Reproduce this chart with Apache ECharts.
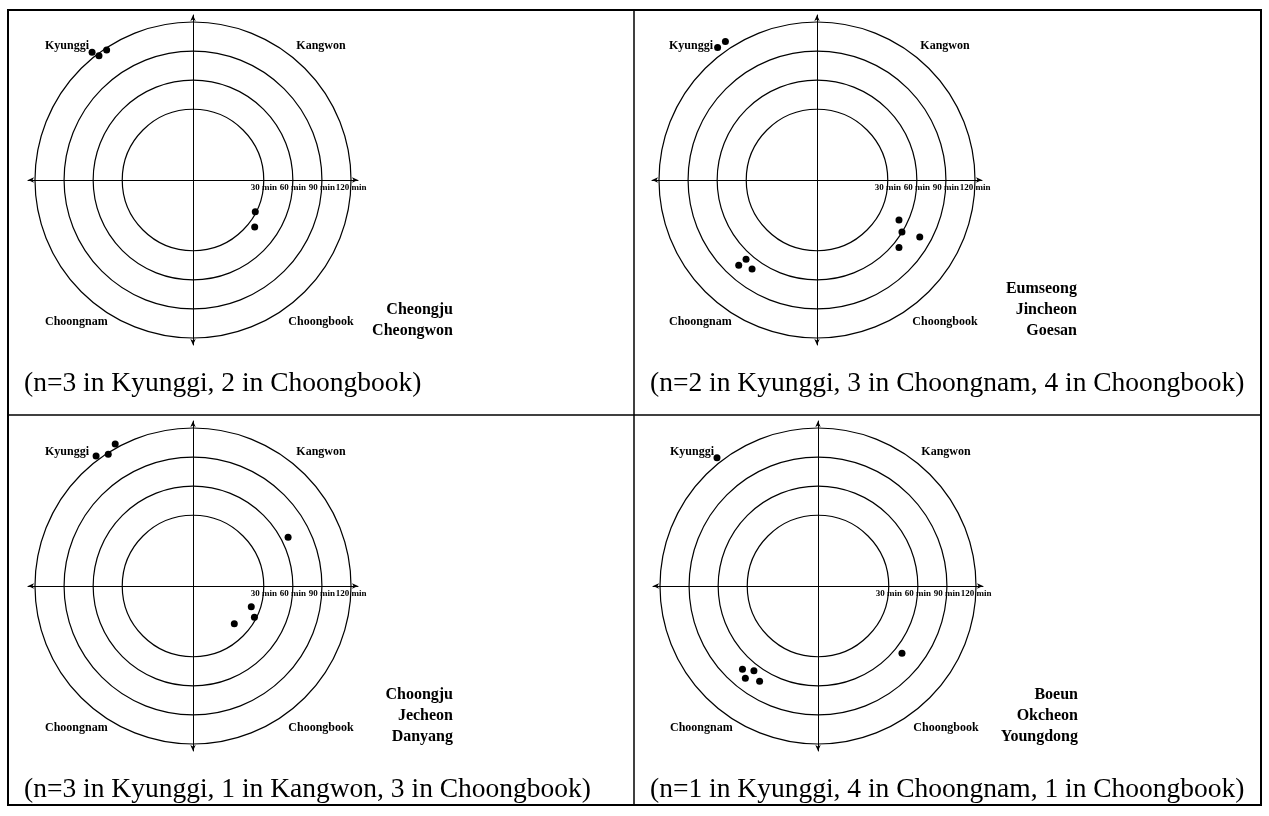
<!DOCTYPE html>
<html>
<head>
<meta charset="utf-8">
<script src="https://cdn.jsdelivr.net/npm/echarts@6/dist/echarts.min.js"></script>
<style>
  html, body { margin: 0; padding: 0; background: #fff; }
  #chart { width: 1269px; height: 816px; }
</style>
</head>
<body>
<div id="chart"></div>
<script>
// travel-time rings (minutes)
var ringValues = [30, 60, 90, 120];
var quadrantNames = ['Kyunggi', 'Kangwon', 'Choongnam', 'Choongbook'];

// dots: [minutes, angle in degrees, counter-clockwise from east]
var cheongjuDots = [[125, 128.3], [117.8, 127.1], [118, 123.6], [29.1, 333], [37, 322.7]];
var eumseongDots = [[127.8, 126.9], [128.2, 123.5], [76.3, 227.4], [66.8, 228.2], [70.7, 233.9],
                    [51.1, 334], [59.8, 328.5], [78.2, 331], [66.6, 320.5]];
var choongjuDots = [[124.3, 126.7], [118.6, 122.75], [124.1, 118.7], [67.2, 27.1],
                    [20.8, 340.4], [28.1, 333], [14.7, 317.6]];
var boeunDots = [[125.5, 128.2], [73, 227.8], [66.6, 232.9], [78.2, 231.8], [72.3, 238.5], [68, 321.3]];

var areaNames = [
    ['Cheongju', 'Cheongwon'],
    ['Eumseong', 'Jincheon', 'Goesan'],
    ['Choongju', 'Jecheon', 'Danyang'],
    ['Boeun', 'Okcheon', 'Youngdong']
];
var captions = [
    '(n=3 in Kyunggi, 2 in Choongbook)',
    '(n=2 in Kyunggi, 3 in Choongnam, 4 in Choongbook)',
    '(n=3 in Kyunggi, 1 in Kangwon, 3 in Choongbook)',
    '(n=1 in Kyunggi, 4 in Choongnam, 1 in Choongbook)'
];
var allDots = [cheongjuDots, eumseongDots, choongjuDots, boeunDots];

// layout (pixels)
var centers = [[193, 180], [817, 180], [193, 586], [818, 586]];
var cellLeft = [8, 634, 8, 634];
var serif = 'Liberation Serif, Times New Roman, serif';

var chart = echarts.init(document.getElementById('chart'));

var graphics = [
    { type: 'rect', shape: { x: 8, y: 10, width: 1253, height: 795 },
      style: { fill: 'none', stroke: '#000', lineWidth: 2 } },
    { type: 'line', shape: { x1: 634, y1: 10, x2: 634, y2: 805 },
      style: { stroke: '#000', lineWidth: 1.5 } },
    { type: 'line', shape: { x1: 8, y1: 415, x2: 1261, y2: 415 },
      style: { stroke: '#000', lineWidth: 1.5 } }
];

centers.forEach(function (c, i) {
    var cx = c[0], cy = c[1];
    var qFont = 'bold 12px ' + serif;
    graphics.push({ type: 'text', x: cx - 148, y: cy - 134,
        style: { text: quadrantNames[0], font: qFont, fill: '#000', textAlign: 'left', textVerticalAlign: 'middle' } });
    graphics.push({ type: 'text', x: cx + 128, y: cy - 134,
        style: { text: quadrantNames[1], font: qFont, fill: '#000', textAlign: 'center', textVerticalAlign: 'middle' } });
    graphics.push({ type: 'text', x: cx - 148, y: cy + 142,
        style: { text: quadrantNames[2], font: qFont, fill: '#000', textAlign: 'left', textVerticalAlign: 'middle' } });
    graphics.push({ type: 'text', x: cx + 128, y: cy + 142,
        style: { text: quadrantNames[3], font: qFont, fill: '#000', textAlign: 'center', textVerticalAlign: 'middle' } });
    var names = areaNames[i];
    names.forEach(function (n, k) {
        graphics.push({ type: 'text', x: cx + 260, y: cy + 151 - 21 * (names.length - 1 - k),
            style: { text: n, font: 'bold 16px ' + serif, fill: '#000', textAlign: 'right', textVerticalAlign: 'middle' } });
    });
    graphics.push({ type: 'text', x: cellLeft[i] + 16, y: cy + 204,
        style: { text: captions[i], font: '27.5px ' + serif, fill: '#000', textAlign: 'left', textVerticalAlign: 'middle' } });
});

var hiddenAxisBits = {
    axisTick: { show: false },
    axisLabel: { show: false },
    splitLine: { show: false }
};
var arrowLine = {
    onZero: true,
    symbol: ['arrow', 'arrow'],
    symbolSize: [4, 6],
    lineStyle: { color: '#000', width: 1 }
};

var option = {
    animation: false,
    backgroundColor: '#fff',
    graphic: graphics,
    polar: centers.map(function (c) {
        return { center: [c[0], c[1]], radius: 167.7 };
    }),
    angleAxis: centers.map(function (c, i) {
        return {
            polarIndex: i, type: 'value', min: 0, max: 360, startAngle: 0, clockwise: false,
            axisLine: { show: false }, axisTick: { show: false }, axisLabel: { show: false },
            splitLine: { show: false }
        };
    }),
    radiusAxis: centers.map(function (c, i) {
        return {
            polarIndex: i, type: 'value', min: -43, max: 130,
            axisLine: { show: false },
            axisTick: { show: false, customValues: ringValues },
            axisLabel: {
                customValues: ringValues,
                formatter: function (v) { return v + ' min'; },
                margin: -12,
                fontFamily: serif, fontWeight: 'bold', fontSize: 9, color: '#000'
            },
            splitLine: { show: true, lineStyle: { color: '#000', width: 1.2 } }
        };
    }),
    grid: centers.map(function (c) {
        return { left: c[0] - 165, top: c[1] - 165, width: 330, height: 330 };
    }),
    xAxis: centers.map(function (c, i) {
        return Object.assign({ gridIndex: i, type: 'value', min: -1, max: 1, axisLine: arrowLine }, hiddenAxisBits);
    }),
    yAxis: centers.map(function (c, i) {
        return Object.assign({ gridIndex: i, type: 'value', min: -1, max: 1, axisLine: arrowLine }, hiddenAxisBits);
    }),
    series: allDots.map(function (dots, i) {
        return {
            type: 'scatter', coordinateSystem: 'polar', polarIndex: i,
            data: dots, symbolSize: 7, silent: true,
            itemStyle: { color: '#000', opacity: 1 }
        };
    })
};

chart.setOption(option);
</script>
</body>
</html>
